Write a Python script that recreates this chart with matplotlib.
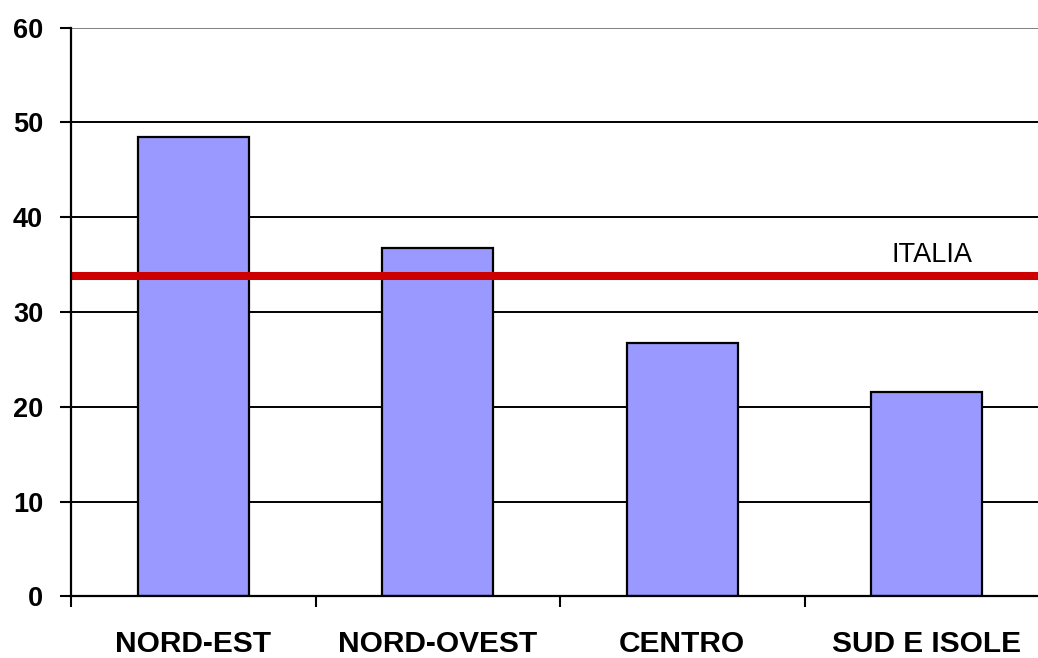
import numpy as np
import matplotlib.pyplot as plt

# Regional values and national average
regioni = ["NORD-EST", "NORD-OVEST", "CENTRO", "SUD E ISOLE"]
valori = [48.5, 36.8, 26.7, 21.6]
italia = 33.8
y_ticks = [0, 10, 20, 30, 40, 50, 60]

plt.rcParams["font.family"] = ["Liberation Sans", "DejaVu Sans"]

fig = plt.figure(figsize=(10.38, 6.58), dpi=100)
ax = fig.add_axes([71 / 1038, 61.7 / 658, 978 / 1038, 568.6 / 658])

x = np.arange(len(regioni))

# horizontal grid lines (top one grey like the plot border)
for v in y_ticks[1:]:
    col = "#808080" if v == y_ticks[-1] else "black"
    ax.axhline(v, color=col, lw=1.4, zorder=1)

ax.bar(x, valori, width=0.455, color="#9999FF", edgecolor="black",
       linewidth=1.6, zorder=2)

# national average line
ax.axhline(italia, color="#CC0000", lw=5.8, zorder=3)
ax.text(3.02, italia + 0.85, "ITALIA", fontsize=19.5, ha="center",
        va="bottom", color="black")

ax.set_xlim(-0.5, 3.5)
ax.set_ylim(0, 60)
ax.set_yticks(y_ticks)
ax.set_xticks(np.arange(-0.5, 4.0, 1.0), minor=False)
ax.set_xticklabels([])
ax.set_xticks(x, minor=True)
ax.set_xticklabels(regioni, minor=True, fontsize=21.5, fontweight="bold")
ax.tick_params(axis="x", which="minor", length=0, pad=24)
ax.tick_params(axis="x", which="major", length=8, width=1.5, direction="out")
ax.tick_params(axis="y", length=8, width=1.5, pad=12, labelsize=19.5)
for lab in ax.get_yticklabels():
    lab.set_fontweight("bold")

for s in ["top", "right"]:
    ax.spines[s].set_visible(False)
for s in ["left", "bottom"]:
    ax.spines[s].set_linewidth(1.6)
    ax.spines[s].set_zorder(4)

fig.savefig("out.png", dpi=100)
